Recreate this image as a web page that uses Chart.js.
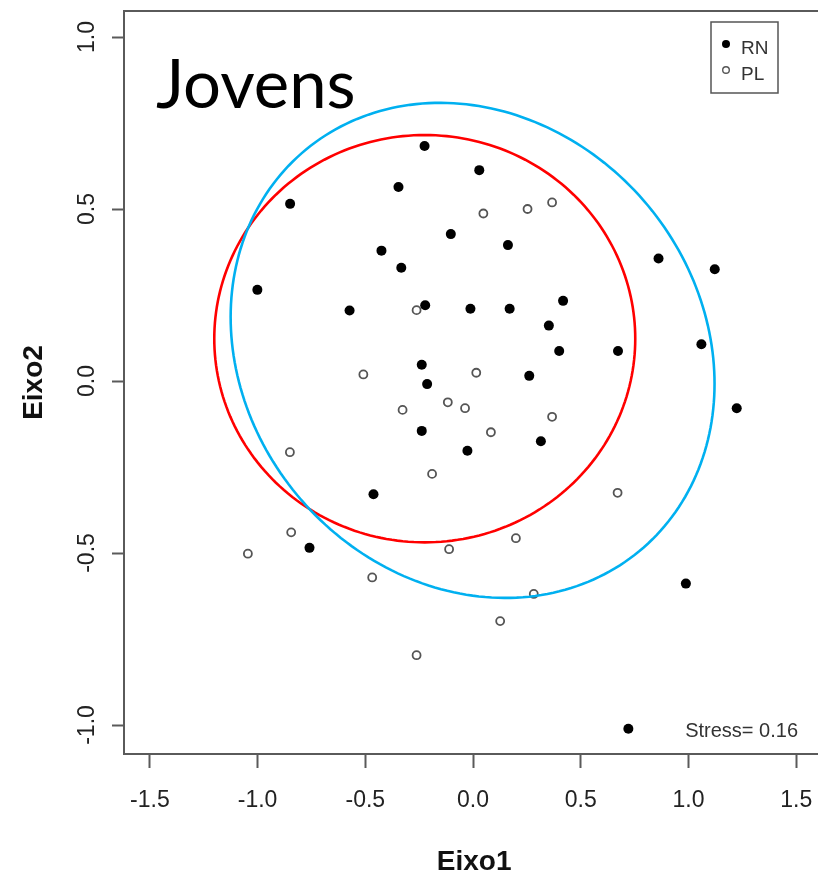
<!DOCTYPE html>
<html lang="pt">
<head>
  <meta charset="UTF-8">
  <title>Jovens - NMDS</title>
  <script src="https://cdn.jsdelivr.net/npm/chart.js"></script>
  <style>
    html, body { margin: 0; padding: 0; background: #fff; overflow: hidden; }
  </style>
</head>
<body>
  <div style="width: 830px; height: 879px;">
    <canvas id="nmdsChart" width="830" height="879"></canvas>
  </div>

  <script>
    // pontos RN (preenchidos)
    const rnX = [-1.001, -0.849, -0.346, -0.225, 0.029, -0.425, -0.333, -0.103, 0.162, -0.573,
                 -0.222, -0.012, 0.170, 0.418, 0.352, 0.400, 0.673, 0.861, 1.122, 1.060,
                 1.224, -0.238, -0.213, 0.261, -0.238, -0.026, 0.315, -0.462, -0.759, 0.988, 0.721];
    const rnY = [0.265, 0.515, 0.564, 0.683, 0.613, 0.379, 0.329, 0.427, 0.395, 0.205,
                 0.220, 0.210, 0.210, 0.233, 0.161, 0.087, 0.087, 0.356, 0.325, 0.107,
                 -0.079, 0.047, -0.009, 0.015, -0.145, -0.203, -0.175, -0.329, -0.485, -0.589, -1.011];

    // pontos PL (vazios)
    const plX = [0.048, 0.253, 0.367, -0.262, 0.015, -0.117, -0.037, 0.367, 0.083, -0.509, -0.327,
                 -0.850, -0.190, 0.671, 0.199, -0.111, 0.282, 0.126, -0.262, -0.844, -1.045, -0.468];
    const plY = [0.487, 0.500, 0.519, 0.206, 0.024, -0.062, -0.079, -0.104, -0.149, 0.019, -0.084,
                 -0.207, -0.270, -0.325, -0.457, -0.489, -0.619, -0.698, -0.797, -0.440, -0.502, -0.571];

    // elipses: centro e vetores (cos t, sin t) em unidades dos eixos
    const ellipseColors = ['#ff0000', '#00b0f0'];
    const ellipseCx = [-0.224, -0.002];
    const ellipseCy = [0.123, 0.089];
    const ellipseCosX = [0.977, 1.123];
    const ellipseCosY = [0, -0.097];
    const ellipseSinX = [0, 0];
    const ellipseSinY = [0.592, 0.713];

    const xTicks = [-1.5, -1.0, -0.5, 0.0, 0.5, 1.0, 1.5];
    const yTicks = [-1.0, -0.5, 0.0, 0.5, 1.0];
    const stressText = 'Stress= 0.16';

    const toPoints = (xs, ys) => xs.map((x, i) => ({ x: x, y: ys[i] }));
    const font = 'Liberation Sans, Arial, sans-serif';

    const extras = {
      id: 'extras',
      afterDatasetsDraw(chart) {
        const { ctx, chartArea: a, scales: { x, y } } = chart;
        ctx.save();
        ctx.beginPath();
        ctx.rect(a.left, a.top, a.right - a.left, a.bottom - a.top);
        ctx.clip();
        ellipseCx.forEach((cx, k) => {
          ctx.beginPath();
          for (let i = 0; i <= 240; i++) {
            const t = i / 240 * Math.PI * 2;
            const px = x.getPixelForValue(cx + ellipseCosX[k] * Math.cos(t) + ellipseSinX[k] * Math.sin(t));
            const py = y.getPixelForValue(ellipseCy[k] + ellipseCosY[k] * Math.cos(t) + ellipseSinY[k] * Math.sin(t));
            if (i === 0) ctx.moveTo(px, py); else ctx.lineTo(px, py);
          }
          ctx.closePath();
          ctx.strokeStyle = ellipseColors[k];
          ctx.lineWidth = 2.6;
          ctx.stroke();
        });
        ctx.restore();

        ctx.save();
        // moldura
        ctx.strokeStyle = '#5a5a5a';
        ctx.lineWidth = 2;
        ctx.strokeRect(a.left, a.top, a.right - a.left, a.bottom - a.top);

        // titulo interno
        ctx.fillStyle = '#000';
        ctx.font = '67px Lato, sans-serif';
        ctx.textBaseline = 'alphabetic';
        ctx.textAlign = 'left';
        ctx.fillText('Jovens', 156, 108);

        // stress
        ctx.font = '20px ' + font;
        ctx.fillStyle = '#333';
        ctx.textAlign = 'right';
        ctx.fillText(stressText, 798, 737);

        // legenda
        ctx.strokeStyle = '#555';
        ctx.lineWidth = 1.5;
        ctx.strokeRect(711, 22, 67, 71);
        ctx.font = '19px ' + font;
        ctx.textAlign = 'left';
        chart.data.datasets.forEach((ds, i) => {
          const yy = 44 + i * 26;
          ctx.beginPath();
          ctx.arc(726, yy, i === 0 ? 4 : 3.3, 0, Math.PI * 2);
          if (i === 0) { ctx.fillStyle = '#000'; ctx.fill(); }
          else { ctx.strokeStyle = '#555'; ctx.lineWidth = 1.4; ctx.stroke(); }
          ctx.fillStyle = '#333';
          ctx.fillText(ds.label, 741, yy + 10);
        });
        ctx.restore();
      }
    };

    const config = {
      type: 'scatter',
      data: {
        datasets: [
          {
            label: 'RN',
            data: toPoints(rnX, rnY),
            pointStyle: 'circle',
            pointRadius: 5,
            backgroundColor: '#000',
            borderColor: '#000',
            borderWidth: 0
          },
          {
            label: 'PL',
            data: toPoints(plX, plY),
            pointStyle: 'circle',
            pointRadius: 4,
            backgroundColor: '#fff',
            borderColor: '#555',
            borderWidth: 1.8
          }
        ]
      },
      options: {
        responsive: false,
        animation: false,
        layout: { padding: { top: 11, left: 0, right: 4, bottom: 0 } },
        plugins: {
          legend: { display: false },
          tooltip: { enabled: false },
          title: { display: false }
        },
        scales: {
          x: {
            type: 'linear',
            min: -1.62,
            max: 1.63,
            afterBuildTicks: s => { s.ticks = xTicks.map(v => ({ value: v })); },
            afterFit: s => { s.height = 125; s.paddingLeft = 0; s.paddingRight = 0; },
            border: { display: false },
            grid: { drawOnChartArea: false, drawTicks: true, tickLength: 14, tickWidth: 2, tickColor: '#5a5a5a' },
            ticks: {
              autoSkip: false, maxRotation: 0, padding: 19,
              color: '#222', font: { family: font, size: 23 },
              callback: v => v.toFixed(1)
            },
            title: {
              display: true, text: 'Eixo1', color: '#111',
              font: { family: font, size: 28, weight: 'bold' },
              padding: { top: 0, bottom: 0 }
            }
          },
          y: {
            type: 'linear',
            min: -1.0843,
            max: 1.0756,
            afterBuildTicks: s => { s.ticks = yTicks.map(v => ({ value: v })); },
            afterFit: s => { s.width = 124; s.paddingTop = 0; s.paddingBottom = 0; },
            border: { display: false },
            grid: { drawOnChartArea: false, drawTicks: true, tickLength: 12, tickWidth: 2, tickColor: '#5a5a5a' },
            ticks: {
              autoSkip: false, minRotation: 90, maxRotation: 90, crossAlign: 'center', padding: 5,
              color: '#222', font: { family: font, size: 23 },
              callback: v => v.toFixed(1)
            },
            title: {
              display: true, text: 'Eixo2', color: '#111',
              font: { family: font, size: 28, weight: 'bold' },
              padding: { top: 17, bottom: 0 }
            }
          }
        }
      },
      plugins: [extras]
    };

    new Chart(document.getElementById('nmdsChart'), config);
  </script>
</body>
</html>
